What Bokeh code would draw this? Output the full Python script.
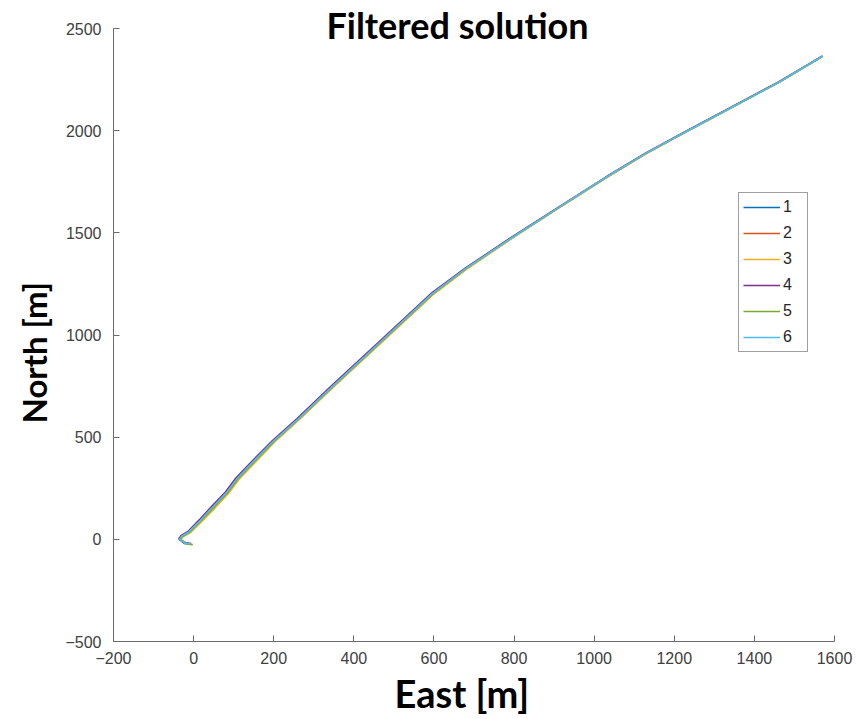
from bokeh.plotting import figure
from bokeh.models import Range1d, FixedTicker, Label, Legend, LegendItem, Title
from bokeh.embed import file_html
from bokeh.resources import INLINE

# ---- data ----
series_names = ["1", "2", "3", "4", "5", "6"]
series_colors = ["#0072BD", "#D95319", "#EDB120", "#7E2F8E", "#77AC30", "#4DBEEE"]

east_1 = [-10, -22, -36, -30, -14, 16, 46, 82, 108, 144, 198, 261, 344, 469, 594, 679, 789, 910, 1030, 1130, 1245, 1345, 1460, 1570]
north_1 = [-22, -21, 0, 16, 34, 92, 156, 230, 298, 372, 480, 590, 745, 972, 1200, 1325, 1470, 1622, 1772, 1890, 2012, 2116, 2236, 2364]

east_2 = [-6, -18, -34, -26, -10, 20, 50, 86, 112, 148, 202, 264, 347, 472, 597, 681, 791, 911, 1031, 1131, 1246, 1345, 1460, 1570]
north_2 = [-20, -19, 2, 18, 35, 91, 154, 228, 296, 370, 479, 589, 744, 971, 1199, 1324, 1469, 1621, 1771, 1889, 2012, 2116, 2236, 2364]

east_3 = [-4, -16, -33, -25, -8, 22, 53, 88, 114, 150, 203, 265, 348, 473, 598, 682, 792, 911, 1031, 1131, 1246, 1346, 1461, 1571]
north_3 = [-24, -23, -2, 14, 33, 90, 153, 227, 295, 369, 478, 588, 743, 970, 1198, 1323, 1469, 1621, 1771, 1889, 2011, 2115, 2236, 2364]

east_4 = [-12, -24, -37, -31, -15, 14, 44, 80, 106, 142, 197, 259, 342, 467, 592, 678, 788, 909, 1029, 1129, 1244, 1344, 1459, 1569]
north_4 = [-18, -17, 3, 19, 37, 95, 159, 233, 301, 375, 483, 592, 747, 974, 1202, 1327, 1471, 1623, 1773, 1891, 2013, 2117, 2237, 2364]

east_5 = [-2, -15, -34, -27, -11, 18, 49, 85, 111, 147, 201, 263, 346, 471, 596, 680, 790, 910, 1030, 1130, 1245, 1345, 1460, 1570]
north_5 = [-26, -24, -1, 15, 33, 91, 155, 229, 297, 371, 480, 590, 745, 972, 1200, 1325, 1470, 1622, 1772, 1890, 2012, 2116, 2236, 2365]

east_6 = [-9, -21, -35, -29, -13, 17, 47, 83, 109, 145, 199, 262, 345, 470, 595, 680, 790, 910, 1030, 1130, 1245, 1345, 1460, 1570]
north_6 = [-21, -20, 1, 17, 35, 93, 157, 231, 299, 373, 481, 591, 746, 973, 1201, 1326, 1470, 1622, 1772, 1890, 2012, 2116, 2236, 2364]

east_series = [east_1, east_2, east_3, east_4, east_5, east_6]
north_series = [north_1, north_2, north_3, north_4, north_5, north_6]

x_ticks = [-200, 0, 200, 400, 600, 800, 1000, 1200, 1400, 1600]
y_ticks = [-500, 0, 500, 1000, 1500, 2000, 2500]

# ---- layout numbers ----
W, H = 856, 719
frame_bottom_px = 641          # canvas y of the x axis
axis_top_px = 28               # canvas y of the 2500 tick
y0, y1 = -500, 2500
# the frame reaches the top of the canvas so that the title sits inside it;
# the y axis line is bounded to [-500, 2500]
y_top = y0 + (y1 - y0) * frame_bottom_px / (frame_bottom_px - axis_top_px)

p = figure(width=W, height=H, output_backend="svg", toolbar_location=None,
           title_location=None,
           x_range=Range1d(-200, 1600), y_range=Range1d(y0, y_top),
           min_border_left=113, min_border_right=22, min_border_top=0,
           min_border_bottom=H - frame_bottom_px)
p.outline_line_color = None
p.xgrid.visible = False
p.ygrid.visible = False
p.background_fill_color = "white"
p.border_fill_color = "white"

renderers = []
for ex, no, col in zip(east_series, north_series, series_colors):
    r = p.line(ex, no, line_color=col, line_width=1.6)
    renderers.append(r)

for ax, ticks in ((p.xaxis[0], x_ticks), (p.yaxis[0], y_ticks)):
    ax.ticker = FixedTicker(ticks=ticks)
    ax.minor_tick_line_color = None
    ax.major_tick_in = 6
    ax.major_tick_out = 0
    ax.axis_line_color = "#6a6a6a"
    ax.major_tick_line_color = "#6a6a6a"
    ax.major_label_text_font = "Liberation Sans"
    ax.major_label_text_font_size = "16px"
    ax.major_label_text_color = "#404040"

p.yaxis.bounds = (y0, y1)
p.xaxis.major_label_standoff = 10
p.yaxis.major_label_standoff = 12

# axis titles
ylab = Title(text="North [m]", align="left", offset=218, standoff=14,
             vertical_align="top",
             text_font="Lato", text_font_style="bold", text_font_size="33px",
             text_color="black")
p.add_layout(ylab, "left")
xlab = Title(text="East [m]", align="left", offset=281, standoff=2,
             text_font="Lato", text_font_style="bold", text_font_size="38px",
             text_color="black")
p.add_layout(xlab, "below")

title = Label(x=344, y=frame_bottom_px - 24, x_units="screen", y_units="screen",
              text="Filtered solution",
              text_font="Lato", text_font_style="bold", text_font_size="36px",
              text_align="center", text_baseline="middle", text_color="black")
p.add_layout(title)

legend = Legend(items=[LegendItem(label=n, renderers=[r]) for n, r in zip(series_names, renderers)],
                location=(625, 289), orientation="vertical",
                border_line_color="#404040", border_line_width=1,
                background_fill_color="white", background_fill_alpha=1.0,
                label_text_font="Liberation Sans", label_text_font_size="16px",
                label_text_color="#262626",
                glyph_width=37, glyph_height=20, label_height=20, spacing=6,
                padding=4, label_standoff=3, margin=0)
p.add_layout(legend)

open("out.html", "w").write(file_html(p, INLINE))
